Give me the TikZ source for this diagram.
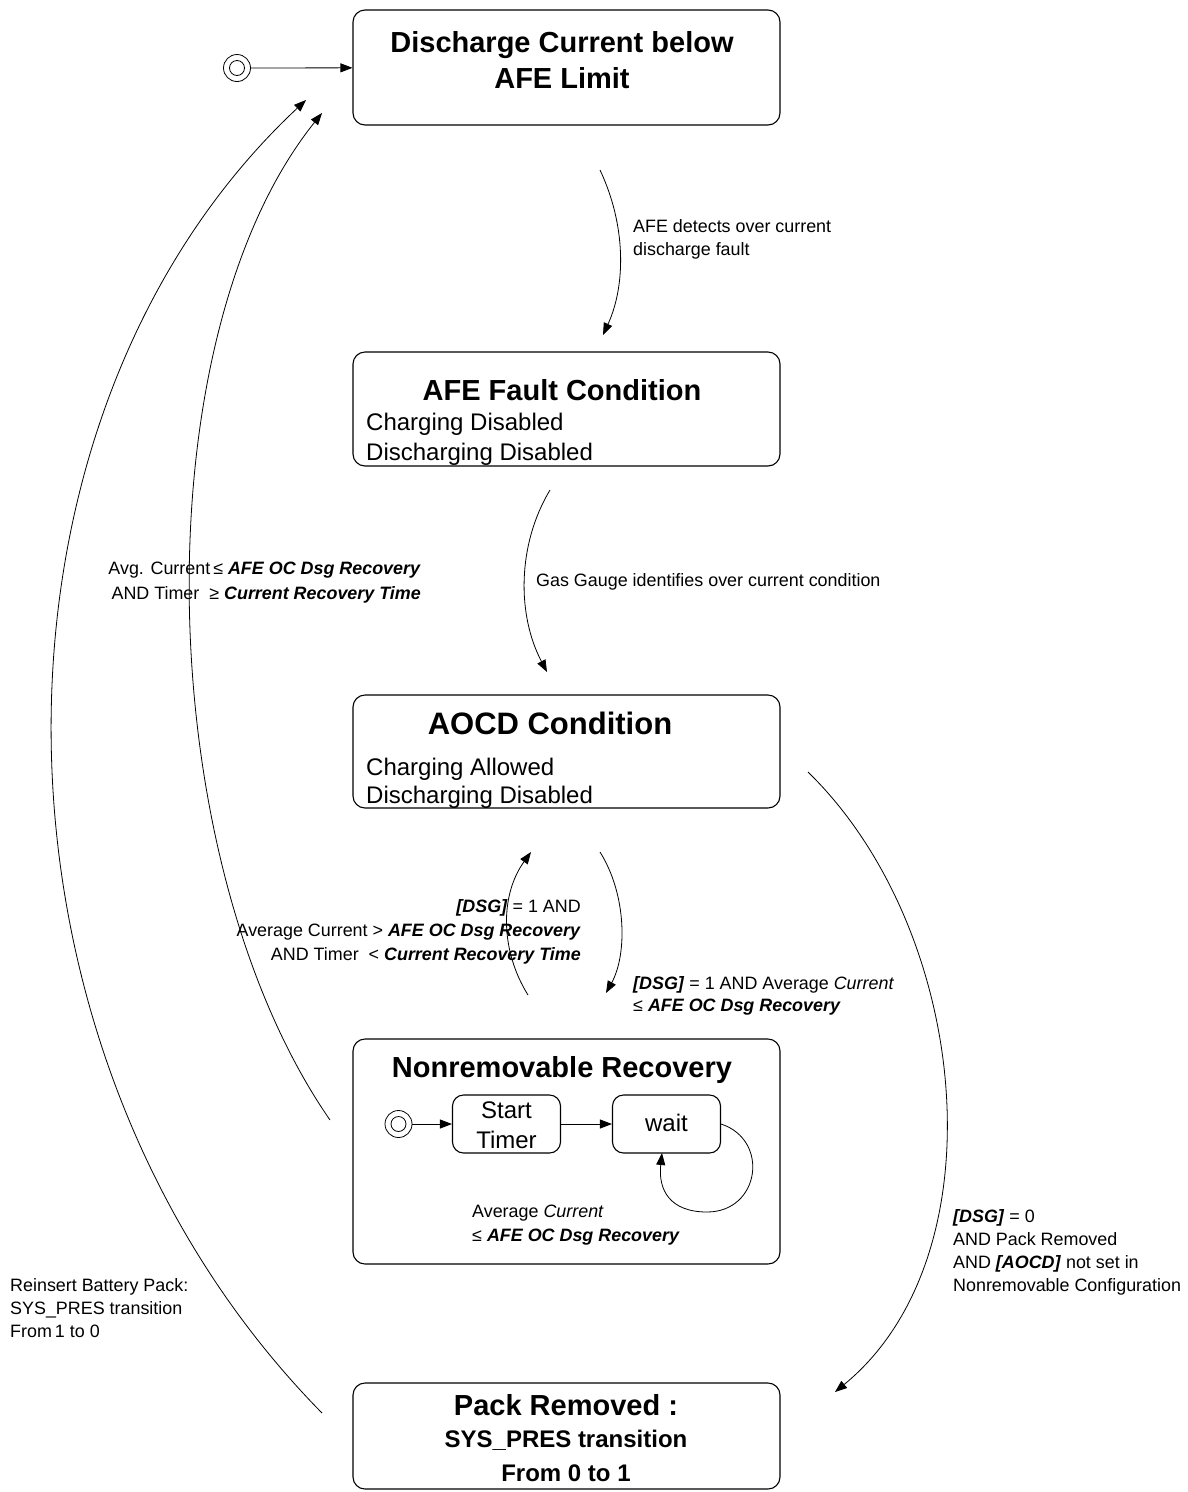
\documentclass[tikz,border=0pt]{standalone}
\usepackage{fontspec}
\setmainfont{Liberation Sans}
\usetikzlibrary{arrows.meta}
\begin{document}
\begin{tikzpicture}[x=1pt,y=-1pt,
  statebox/.style={draw, rounded corners=12pt, line width=1.1pt, minimum width=427pt, inner sep=0pt},
  subbox/.style={draw, rounded corners=11pt, line width=1.1pt, minimum width=108pt, minimum height=58pt, inner sep=0pt},
  initout/.style={draw, circle, line width=0.8pt, minimum size=27pt, inner sep=0pt},
  initin/.style={draw, circle, line width=0.8pt, minimum size=15pt, inner sep=0pt},
  tr/.style={-{Triangle[length=12pt,width=9pt]}, line width=0.8pt},
  ttl/.style={font=\fontsize{29}{34}\selectfont\bfseries, anchor=base, inner sep=0pt},
  bsub/.style={font=\fontsize{24}{28}\selectfont\bfseries, anchor=base, inner sep=0pt},
  body/.style={font=\fontsize{24}{28}\selectfont, anchor=base west, inner sep=0pt},
  bodyc/.style={font=\fontsize{24}{28}\selectfont, anchor=base, inner sep=0pt},
  lblw/.style={font=\fontsize{17.9}{23}\selectfont, anchor=base west, inner sep=0pt},
  lble/.style={font=\fontsize{17.9}{23}\selectfont, anchor=base east, inner sep=0pt}
]
\useasboundingbox (0,0) rectangle (1187,1492);
\newcommand{\bi}[1]{\textbf{\textit{#1}}}

% ---- state boxes
\node[statebox, minimum height=115pt] (box1) at (566.5,67.5) {};
\node[statebox, minimum height=114pt] (box2) at (566.5,409) {};
\node[statebox, minimum height=113pt] (box3) at (566.5,751.5) {};
\node[statebox, minimum height=225pt] (box4) at (566.5,1151.5) {};
\node[statebox, minimum height=106pt] (box5) at (566.5,1436) {};

% ---- texts in boxes
\node[ttl] (t1a) at (562,52) {Discharge Current below};
\node[ttl] (t1b) at (562,88) {AFE Limit};

\node[ttl] (t2a) at (562,400) {AFE Fault Condition};
\node[body] (t2b) at (366,430) {Charging Disabled};
\node[body] (t2c) at (366,460) {Discharging Disabled};

\node[ttl, font=\fontsize{31}{36}\selectfont\bfseries] (t3a) at (550,734) {AOCD Condition};
\node[body] (t3b) at (366,775) {Charging Allowed};
\node[body] (t3c) at (366,803) {Discharging Disabled};

\node[ttl] (t4a) at (562,1077) {Nonremovable Recovery};

\node[ttl] (t5a) at (566,1415) {Pack Removed :};
\node[bsub] (t5b) at (566,1447) {SYS\_PRES transition};
\node[bsub] (t5c) at (566,1481) {From 0 to 1};

% ---- initial states
\node[initout] (init1) at (237,68) {};
\node[initin] (init1c) at (237,68) {};
\node[initout] (init2) at (398.5,1124) {};
\node[initin] (init2c) at (398.5,1124) {};

% ---- inner states
\node[subbox] (start) at (506.5,1124) {};
\node[bodyc] (startA) at (506.5,1118) {Start};
\node[bodyc] (startB) at (506.5,1148) {Timer};
\node[subbox] (wait) at (666.5,1124) {};
\node[bodyc] (waitT) at (666.5,1131) {wait};

% ---- simple arrows
\draw[tr] (init1) -- (box1);
\draw[tr] (init2) -- (start);
\draw[tr] (start) -- (wait);
\coordinate (loopEnd) at (662,1153);
\draw[tr] (wait.east) .. controls (770,1140) and (760,1212) .. (707,1212)
          .. controls (670,1212) and (658,1190) .. (loopEnd);

% ---- free ends of the transitions
\coordinate (a1s) at (600,170);  \coordinate (a1e) at (603,335);
\coordinate (a2s) at (550,490);  \coordinate (a2e) at (547,672);
\coordinate (a3s) at (600,852);  \coordinate (a3e) at (606,993);
\coordinate (a4s) at (528,995);  \coordinate (a4e) at (531,852);
\coordinate (a5s) at (808,772);  \coordinate (a5e) at (835,1392);
\coordinate (a6s) at (330,1120); \coordinate (a6e) at (322,113);
\coordinate (a7s) at (322,1413); \coordinate (a7e) at (306,100);

\draw[tr] (a1s) .. controls (626,225) and (626,285) .. (a1e);
\draw[tr] (a2s) .. controls (517,545) and (517,615) .. (a2e);
\draw[tr] (a3s) .. controls (627,895) and (627,955) .. (a3e);
\draw[tr] (a4s) .. controls (500,950) and (500,895) .. (a4e);
\draw[tr] (a5s) .. controls (970,930) and (1002,1255) .. (a5e);
\draw[tr] (a6s) .. controls (150,860) and (140,340) .. (a6e);
\draw[tr] (a7s) .. controls (-35,1050) and (-35,419) .. (a7e);

% ---- labels
\node[lblw] (lA1) at (633,232.5) {AFE detects over current};
\node[lblw] (lA2) at (633,255.5) {discharge fault};

\node[lblw] (lB1) at (536,586.5) {Gas Gauge identifies over current condition};

\node[lble] (lC1) at (421,574.5) {Avg. Current\,≤ \bi{AFE OC Dsg Recovery}};
\node[lble] (lC2) at (421,599.5) {AND Timer \ ≥ \bi{Current Recovery Time}};

\node[lble] (lD1) at (581,912.5) {\bi{[DSG]} = 1 AND};
\node[lble] (lD2) at (581,936.5) {Average Current > \bi{AFE OC Dsg Recovery}};
\node[lble] (lD3) at (581,960.5) {AND Timer \ < \bi{Current Recovery Time}};

\node[lblw] (lE1) at (633,989.5) {\bi{[DSG]} = 1 AND Average \textit{Current}};
\node[lblw] (lE2) at (633,1011.5) {≤ \bi{AFE OC Dsg Recovery}};

\node[lblw] (lF1) at (472,1217.5) {Average \textit{Current}};
\node[lblw] (lF2) at (472,1241.5) {≤ \bi{AFE OC Dsg Recovery}};

\node[lblw] (lG1) at (10,1291.5) {Reinsert Battery Pack:};
\node[lblw] (lG2) at (10,1314.5) {SYS\_PRES transition};
\node[lblw] (lG3) at (10,1337.5) {From\,1 to 0};

\node[lblw] (lH1) at (953,1222.5) {\bi{[DSG]} = 0};
\node[lblw] (lH2) at (953,1245.5) {AND Pack Removed};
\node[lblw] (lH3) at (953,1268.5) {AND \bi{[AOCD]} not set in};
\node[lblw] (lH4) at (953,1291.5) {Nonremovable Configuration};
\end{tikzpicture}
\end{document}
